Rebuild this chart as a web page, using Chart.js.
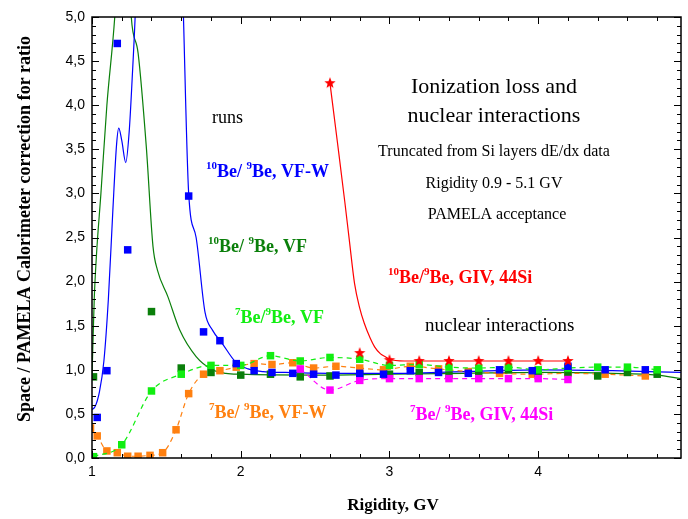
<!DOCTYPE html>
<html>
<head>
<meta charset="utf-8">
<script src="https://cdn.jsdelivr.net/npm/chart.js@4.4.1/dist/chart.umd.min.js"></script>
<style>
  body { margin: 0; background: #fff; }
  canvas { display: block; }
</style>
</head>
<body>
<canvas id="myChart" width="688" height="519"></canvas>
<script>
// axis ticks
const xTicks = [1, 2, 3, 4];
const yTicks = [0, 0.5, 1, 1.5, 2, 2.5, 3, 3.5, 4, 4.5, 5];
const yTickLabels = ['0,0', '0,5', '1,0', '1,5', '2,0', '2,5', '3,0', '3,5', '4,0', '4,5', '5,0'];

// 10Be/9Be, VF-W (runs)
const be10VfwX = [1.035, 1.10, 1.17, 1.24, 1.65, 1.75, 1.86, 1.97, 2.09, 2.21, 2.35, 2.49, 2.64, 2.80, 2.96, 3.14, 3.33, 3.53, 3.74, 3.96, 4.20, 4.45, 4.72];
const be10VfwY = [0.46, 0.99, 4.70, 2.36, 2.97, 1.43, 1.33, 1.07, 0.99, 0.97, 0.96, 0.95, 0.94, 0.96, 0.95, 0.99, 0.97, 0.96, 1.00, 0.99, 1.04, 1.00, 1.00];
// fitted curve for it
const be10VfwFitX = [1.00, 1.02, 1.05, 1.08, 1.11, 1.14, 1.165, 1.18, 1.20, 1.227, 1.25, 1.27, 1.29, 1.31, 1.60, 1.615, 1.65, 1.70, 1.76, 1.81, 1.875, 1.965, 2.05, 2.15, 2.30, 2.60, 3.00, 3.50, 4.00, 4.50, 4.96];
const be10VfwFitY = [0.55, 0.58, 0.75, 1.10, 1.80, 2.80, 3.55, 3.74, 3.60, 3.35, 3.70, 4.30, 5.00, 6.00, 6.00, 5.00, 3.00, 2.50, 1.65, 1.45, 1.30, 1.09, 1.01, 0.98, 0.97, 0.96, 0.96, 0.98, 1.00, 0.99, 0.97];

// 10Be/9Be, VF
const be10VfX = [1.01, 1.40, 1.60, 1.80, 2.00, 2.20, 2.40, 2.60, 2.80, 3.00, 3.20, 3.40, 3.60, 3.80, 4.00, 4.20, 4.40, 4.60, 4.80];
const be10VfY = [0.92, 1.66, 1.02, 0.97, 0.94, 0.95, 0.92, 0.93, 0.94, 0.95, 0.97, 0.94, 0.96, 1.00, 0.96, 0.97, 0.93, 0.97, 0.95];
const be10VfFitX = [1.00, 1.015, 1.03, 1.06, 1.10, 1.153, 1.17, 1.25, 1.264, 1.31, 1.365, 1.41, 1.44, 1.51, 1.59, 1.70, 1.81, 1.90, 2.00, 2.50, 3.00, 3.50, 4.00, 4.50, 4.80, 4.96];
const be10VfFitY = [0.92, 1.80, 2.30, 3.00, 4.00, 5.00, 5.50, 5.50, 5.00, 4.59, 3.53, 2.40, 2.13, 1.83, 1.45, 1.15, 1.00, 0.96, 0.95, 0.94, 0.95, 0.96, 0.97, 0.96, 0.94, 0.90];

// 7Be/9Be, VF
const be7VfX = [1.01, 1.20, 1.40, 1.60, 1.80, 2.00, 2.20, 2.40, 2.60, 2.80, 3.00, 3.20, 3.40, 3.60, 3.80, 4.00, 4.20, 4.40, 4.60, 4.80];
const be7VfY = [0.015, 0.15, 0.76, 0.95, 1.05, 1.05, 1.16, 1.10, 1.14, 1.12, 1.05, 1.06, 1.03, 1.02, 1.03, 1.00, 1.02, 1.03, 1.03, 1.00];

// 7Be/9Be, VF-W
const be7VfwX = [0.99, 1.035, 1.10, 1.17, 1.24, 1.31, 1.39, 1.475, 1.565, 1.65, 1.75, 1.86, 1.97, 2.09, 2.21, 2.35, 2.49, 2.64, 2.80, 2.96, 3.14, 3.33, 3.53, 3.74, 3.96, 4.20, 4.45, 4.72];
const be7VfwY = [0.34, 0.25, 0.08, 0.06, 0.02, 0.02, 0.03, 0.06, 0.32, 0.73, 0.95, 0.99, 1.03, 1.07, 1.06, 1.08, 1.02, 1.04, 1.02, 1.00, 1.04, 1.01, 0.98, 0.96, 0.95, 0.96, 0.95, 0.93];

// 7Be/9Be, GIV, 44Si
const be7GivX = [2.40, 2.60, 2.80, 3.00, 3.20, 3.40, 3.60, 3.80, 4.00, 4.20];
const be7GivY = [1.01, 0.77, 0.88, 0.90, 0.90, 0.90, 0.90, 0.90, 0.90, 0.89];

// 10Be/9Be, GIV, 44Si
const be10GivX = [2.60, 2.80, 3.00, 3.20, 3.40, 3.60, 3.80, 4.00, 4.20];
const be10GivY = [4.25, 1.19, 1.11, 1.10, 1.10, 1.10, 1.10, 1.10, 1.10];
const be10GivFitX = [2.60, 2.65, 2.70, 2.73, 2.765, 2.80, 2.83, 2.87, 2.90, 2.94, 2.97, 3.00, 3.10, 3.40, 3.80, 4.20];
const be10GivFitY = [4.25, 3.58, 2.90, 2.47, 1.98, 1.70, 1.53, 1.36, 1.26, 1.18, 1.15, 1.12, 1.10, 1.10, 1.10, 1.10];

const pts = (xs, ys) => xs.map((x, i) => ({ x: x, y: ys[i] }));

const BLUE = '#0000ff', DKGREEN = '#0a7f0a', LTGREEN = '#11ee11', ORANGE = '#ff8010', MAGENTA = '#ff00ff', RED = '#ff0000';

// filled five-point star marker
function makeStar(color, r) {
  const c = document.createElement('canvas');
  c.width = c.height = Math.ceil(r * 2 + 2);
  const g = c.getContext('2d');
  const cx = c.width / 2, cy = c.height / 2;
  g.beginPath();
  for (let i = 0; i < 10; i++) {
    const rad = i % 2 === 0 ? r : r * 0.42;
    const a = -Math.PI / 2 + i * Math.PI / 5;
    g.lineTo(cx + rad * Math.cos(a), cy + rad * Math.sin(a));
  }
  g.closePath();
  g.fillStyle = color;
  g.fill();
  return c;
}

function markers(label, xs, ys, color, order, dash) {
  return {
    label: label,
    data: pts(xs, ys),
    showLine: !!dash,
    borderDash: dash || [],
    borderColor: color,
    backgroundColor: color,
    borderWidth: 1.2,
    pointStyle: 'rect',
    pointRadius: 5.3,
    pointBorderWidth: 0,
    cubicInterpolationMode: 'monotone',
    order: order
  };
}

function fitLine(label, xs, ys, color, order) {
  return {
    label: label,
    data: pts(xs, ys),
    showLine: true,
    borderColor: color,
    borderWidth: 1.2,
    pointRadius: 0,
    cubicInterpolationMode: 'monotone',
    order: order
  };
}

// labels with superscript pieces marked by '^'
function drawRich(ctx, parts, x, y, size, color) {
  ctx.fillStyle = color;
  ctx.textAlign = 'left';
  ctx.textBaseline = 'alphabetic';
  for (const p of parts) {
    const sup = p[0] === '^';
    const t = sup ? p.slice(1) : p;
    ctx.font = 'bold ' + (sup ? Math.round(size * 0.62) : size) + 'px "Liberation Serif"';
    ctx.fillText(t, x, sup ? y - size * 0.44 : y);
    x += ctx.measureText(t).width;
  }
}

const frame = {
  id: 'frame',
  afterDatasetsDraw(chart) {
    const { ctx, chartArea: a, scales: { x, y } } = chart;
    ctx.save();
    ctx.strokeStyle = '#000';
    ctx.lineWidth = 1.5;
    ctx.strokeRect(a.left, a.top, a.right - a.left, a.bottom - a.top);
    ctx.lineWidth = 1;
    ctx.beginPath();
    for (let i = 0; i <= 19; i++) {
      const px = Math.round(x.getPixelForValue(1 + i * 0.2)) + 0.5;
      if (px > a.right) break;
      const len = i % 5 === 0 ? 7 : 4;
      ctx.moveTo(px, a.bottom); ctx.lineTo(px, a.bottom - len);
      ctx.moveTo(px, a.top); ctx.lineTo(px, a.top + len);
    }
    for (let i = 0; i <= 50; i++) {
      const py = Math.round(y.getPixelForValue(i * 0.1)) + 0.5;
      const len = i % 5 === 0 ? 7 : 4;
      ctx.moveTo(a.left, py); ctx.lineTo(a.left + len, py);
      ctx.moveTo(a.right, py); ctx.lineTo(a.right - len, py);
    }
    ctx.stroke();
    ctx.restore();
  },
  afterDraw(chart) {
    const ctx = chart.ctx;
    ctx.save();
    drawRich(ctx, ['^10', 'Be/ ', '^9', 'Be, VF-W'], 206, 177, 18, BLUE);
    drawRich(ctx, ['^10', 'Be/ ', '^9', 'Be, VF'], 208, 252, 18, DKGREEN);
    drawRich(ctx, ['^7', 'Be/', '^9', 'Be, VF'], 235, 323, 18, LTGREEN);
    drawRich(ctx, ['^7', 'Be/ ', '^9', 'Be, VF-W'], 209, 418, 18, ORANGE);
    drawRich(ctx, ['^10', 'Be/', '^9', 'Be, GIV, 44Si'], 388, 283, 18, RED);
    drawRich(ctx, ['^7', 'Be/ ', '^9', 'Be, GIV, 44Si'], 410, 420, 18, MAGENTA);

    ctx.fillStyle = '#000';
    ctx.textAlign = 'left';
    ctx.textBaseline = 'alphabetic';
    ctx.font = '18px "Liberation Serif"';
    ctx.fillText('runs', 212, 123);
    ctx.font = '19px "Liberation Serif"';
    ctx.fillText('nuclear interactions', 425, 331);

    ctx.textAlign = 'center';
    ctx.font = '22px "Liberation Serif"';
    ctx.fillText('Ionization loss and', 494, 93);
    ctx.fillText('nuclear interactions', 494, 122);
    ctx.font = '16px "Liberation Serif"';
    ctx.fillText('Truncated from Si layers dE/dx data', 494, 156);
    ctx.fillText('Rigidity 0.9 - 5.1 GV', 494, 188);
    ctx.fillText('PAMELA acceptance', 497, 219);

    // axis titles
    ctx.font = 'bold 17px "Liberation Serif"';
    ctx.fillText('Rigidity, GV', 393, 510);
    ctx.translate(30, 229);
    ctx.rotate(-Math.PI / 2);
    ctx.font = 'bold 18px "Liberation Serif"';
    ctx.fillText('Space / PAMELA Calorimeter correction for ratio', 0, 0);
    ctx.restore();
  }
};

const ctx = document.getElementById('myChart');

new Chart(ctx, {
  type: 'scatter',
  data: {
    datasets: [
      fitLine('10Be/9Be GIV fit', be10GivFitX, be10GivFitY, RED, 9),
      fitLine('10Be/9Be VF fit', be10VfFitX, be10VfFitY, DKGREEN, 10),
      fitLine('10Be/9Be VF-W fit', be10VfwFitX, be10VfwFitY, BLUE, 8),
      markers('7Be/9Be, VF-W', be7VfwX, be7VfwY, ORANGE, 7, [5, 4]),
      markers('10Be/9Be, VF', be10VfX, be10VfY, DKGREEN, 6),
      markers('7Be/9Be, VF', be7VfX, be7VfY, LTGREEN, 5, [5, 4]),
      markers('7Be/9Be, GIV, 44Si', be7GivX, be7GivY, MAGENTA, 4, [5, 4]),
      markers('10Be/9Be, VF-W', be10VfwX, be10VfwY, BLUE, 3),
      {
        label: '10Be/9Be, GIV, 44Si',
        data: pts(be10GivX, be10GivY),
        pointStyle: makeStar(RED, 6),
        pointRadius: 6,
        showLine: false,
        order: 1
      }
    ]
  },
  options: {
    responsive: false,
    animation: false,
    devicePixelRatio: 1,
    layout: { padding: { top: 17, right: 2, left: 0, bottom: 0 } },
    plugins: {
      legend: { display: false },
      tooltip: { enabled: false }
    },
    scales: {
      x: {
        type: 'linear',
        min: 1,
        max: 4.96,
        grid: { display: false, drawTicks: false },
        border: { display: false },
        afterBuildTicks: (scale) => { scale.ticks = xTicks.map(v => ({ value: v })); },
        afterFit: (scale) => { scale.height = 61; },
        ticks: {
          padding: 6,
          maxRotation: 0,
          color: '#000',
          font: { family: '"Liberation Sans", Arial', size: 14 },
          callback: (v) => String(v)
        }
      },
      y: {
        type: 'linear',
        min: 0,
        max: 5,
        grid: { display: false, drawTicks: false },
        border: { display: false },
        afterBuildTicks: (scale) => { scale.ticks = yTicks.map(v => ({ value: v })); },
        afterFit: (scale) => { scale.width = 92; },
        ticks: {
          padding: 7,
          color: '#000',
          font: { family: '"Liberation Sans", Arial', size: 14 },
          callback: (v, i) => yTickLabels[i]
        }
      }
    }
  },
  plugins: [frame]
});
</script>
</body>
</html>
